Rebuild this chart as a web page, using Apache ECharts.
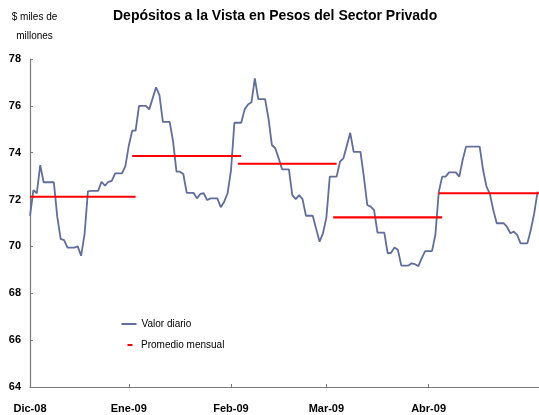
<!doctype html>
<html lang="es">
<head>
  <meta charset="UTF-8">
  <title>Depósitos a la Vista en Pesos del Sector Privado</title>
  <style>
    html, body { margin: 0; padding: 0; background: #fff; }
    #chart { width: 539px; height: 415px; }
  </style>
  <script src="https://cdn.jsdelivr.net/npm/echarts@6/dist/echarts.min.js"></script>
</head>
<body>
  <div id="chart"></div>
  <script>
    // valor diario, $ miles de millones (sab/dom y feriados repiten el dato anterior)
    var dicValues = [71.3, 72.4, 72.27, 73.47, 72.74, 72.74, 72.74, 72.74, 71.27, 70.32,
      70.27, 69.95, 69.95, 69.95, 70.0, 69.6, 70.5, 72.35, 72.37, 72.37,
      72.37, 72.76, 72.59, 72.76, 72.8, 73.12, 73.12, 73.12, 73.43, 74.3, 74.94];
    var eneValues = [74.94, 76.0, 76.0, 76.0, 75.85, 76.32, 76.79, 76.46, 75.32, 75.32,
      75.32, 74.47, 73.19, 73.19, 73.09, 72.29, 72.29, 72.29, 72.05, 72.24,
      72.27, 71.98, 72.05, 72.05, 72.05, 71.67, 71.91, 72.27, 73.25, 75.28, 75.28];
    var febValues = [75.28, 75.85, 76.06, 76.15, 77.17, 76.29, 76.29, 76.29, 75.47, 74.33,
      74.19, 73.76, 73.29, 73.29, 73.29, 72.19, 72.02, 72.19, 72.02, 71.31,
      71.31, 71.31, 70.75, 70.2, 70.56, 71.24, 72.98, 72.98];
    var marValues = [72.98, 73.62, 73.76, 74.3, 74.85, 74.04, 74.04, 74.04, 72.98, 71.77,
      71.7, 71.55, 70.59, 70.59, 70.59, 69.7, 69.73, 69.96, 69.85, 69.18,
      69.18, 69.18, 69.28, 69.24, 69.16, 69.5, 69.8, 69.8, 69.8, 70.5, 72.34];
    var abrValues = [72.98, 72.98, 73.16, 73.16, 73.16, 72.98, 73.69, 74.26, 74.26, 74.26,
      74.26, 74.26, 73.26, 72.55, 72.24, 71.55, 70.99, 70.99, 70.99, 70.84,
      70.56, 70.63, 70.49, 70.13, 70.13, 70.13, 70.7, 71.41, 72.34];

    var monthMeans = [72.12, 73.86, 73.53, 71.24, 72.27]; // dic, ene, feb, mar, abr
    var tickDates = ['2008-12-01', '2008-12-30', '2009-01-29', '2009-02-26', '2009-03-28'];
    var tickLabels = ['Dic-08', 'Ene-09', 'Feb-09', 'Mar-09', 'Abr-09'];

    function pad(n) { return n < 10 ? '0' + n : '' + n; }

    // eje de dias corridos, 1 dic 2008 - 30 abr 2009
    var nDays = 151;
    var dates = [];
    var monthIdx = [];
    for (var d = 0; d < nDays; d++) {
      var dt = new Date(2008, 11, 1 + d);
      dates.push(dt.getFullYear() + '-' + pad(dt.getMonth() + 1) + '-' + pad(dt.getDate()));
      monthIdx.push((dt.getFullYear() - 2008) * 12 + dt.getMonth() - 11);
    }

    var daily = dicValues.concat(eneValues, febValues, marValues, abrValues);

    var series = [{
      name: 'Valor diario',
      type: 'line',
      data: daily,
      showSymbol: false,
      color: '#5f6d9f',
      lineStyle: { width: 1.8, color: '#5f6d9f' },
      z: 2
    }];

    for (var m = 0; m < monthMeans.length; m++) {
      var first = monthIdx.indexOf(m);
      var last = monthIdx.lastIndexOf(m);
      var from = Math.max(0, first - 1);
      var to = Math.min(nDays - 1, last + 1);
      var arr = [];
      for (var k = 0; k < nDays; k++) {
        arr.push(k >= from && k <= to ? monthMeans[m] : null);
      }
      series.push({
        name: 'Promedio mensual',
        type: 'line',
        data: arr,
        showSymbol: false,
        color: '#ff0000',
        lineStyle: { width: 2.2, color: '#ff0000' },
        z: 3
      });
    }

    var myChart = echarts.init(document.getElementById('chart'));

    var option = {
      animation: false,
      backgroundColor: '#ffffff',
      textStyle: { fontFamily: 'Liberation Sans' },
      title: {
        text: 'Depósitos a la Vista en Pesos del Sector Privado',
        left: 113,
        top: 9,
        padding: 0,
        textStyle: { fontSize: 14, fontWeight: 'bold', color: '#000', fontFamily: 'Liberation Sans' }
      },
      graphic: [
        { type: 'text', x: 34.5, y: 17, style: { text: '$ miles de', align: 'center', verticalAlign: 'middle', font: '10px "Liberation Sans"', fill: '#000' } },
        { type: 'text', x: 34.5, y: 36, style: { text: 'millones', align: 'center', verticalAlign: 'middle', font: '10px "Liberation Sans"', fill: '#000' } }
      ],
      legend: [{
        data: ['Valor diario'],
        left: 121.5,
        top: 319,
        padding: 0,
        icon: 'rect',
        itemWidth: 15,
        itemHeight: 2,
        selectedMode: false,
        textStyle: { fontSize: 10, color: '#000', fontFamily: 'Liberation Sans' }
      }, {
        data: ['Promedio mensual'],
        left: 127.5,
        top: 340,
        padding: 0,
        icon: 'rect',
        itemWidth: 5,
        itemHeight: 2,
        selectedMode: false,
        textStyle: { fontSize: 10, color: '#000', fontFamily: 'Liberation Sans', padding: [0, 0, 0, 3.5] }
      }],
      grid: {
        left: 30,
        right: -2,
        top: 59,
        bottom: 28,
        containLabel: false,
        outerBoundsMode: 'none'
      },
      xAxis: {
        type: 'category',
        data: dates,
        boundaryGap: false,
        axisLine: { onZero: false, lineStyle: { color: '#7a7a7a', width: 1.2 } },
        axisTick: {
          inside: true,
          length: 3,
          lineStyle: { color: '#7a7a7a' },
          interval: function (idx, val) { return tickDates.indexOf(val) >= 0; }
        },
        axisLabel: {
          margin: 16,
          fontSize: 11,
          fontWeight: 'bold',
          color: '#000',
          fontFamily: 'Liberation Sans',
          interval: function (idx, val) { return tickDates.indexOf(val) >= 0; },
          formatter: function (val) { return tickLabels[tickDates.indexOf(val)]; }
        },
        splitLine: { show: false }
      },
      yAxis: {
        type: 'value',
        min: 64,
        max: 78,
        interval: 2,
        axisLine: { show: true, lineStyle: { color: '#7a7a7a', width: 1.2 } },
        axisTick: { show: true, inside: true, length: 3, lineStyle: { color: '#7a7a7a' } },
        axisLabel: {
          margin: 9,
          fontSize: 11,
          fontWeight: 'bold',
          color: '#000',
          fontFamily: 'Liberation Sans'
        },
        splitLine: { show: false }
      },
      series: series
    };

    myChart.setOption(option);
  </script>
</body>
</html>
